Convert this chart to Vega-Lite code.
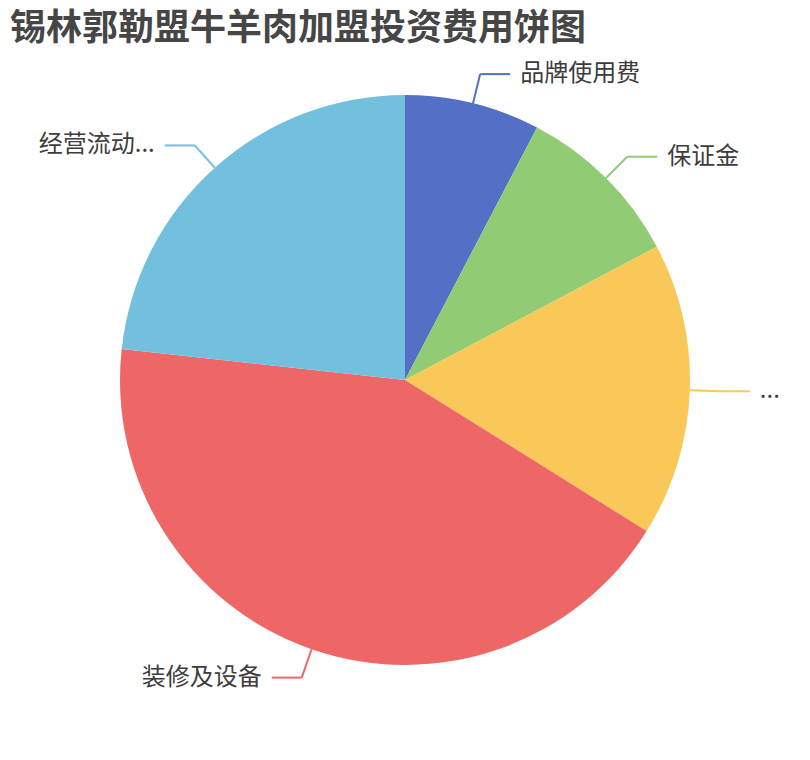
{
  "$schema": "https://vega.github.io/schema/vega-lite/v6.json",
  "width": 810,
  "height": 640,
  "autosize": {"type": "none"},
  "padding": {"left": 0, "top": 60, "right": 0, "bottom": 60},
  "background": "#ffffff",
  "title": {
    "text": "锡林郭勒盟牛羊肉加盟投资费用饼图",
    "anchor": "start",
    "frame": "group",
    "font": "Noto Sans CJK SC",
    "fontSize": 36,
    "fontWeight": "bold",
    "color": "#464646",
    "dx": 10,
    "offset": 12
  },
  "config": {
    "view": {"stroke": null},
    "text": {"font": "Noto Sans CJK SC"}
  },
  "data": {
    "values": [
      {"name": "品牌使用费", "label": "品牌使用费", "value": 7.67},
      {"name": "保证金", "label": "保证金", "value": 9.58},
      {"name": "...", "label": "...", "value": 16.64},
      {"name": "装修及设备", "label": "装修及设备", "value": 42.85},
      {"name": "经营流动资金", "label": "经营流动...", "value": 23.26}
    ]
  },
  "transform": [
    {"joinaggregate": [{"op": "sum", "field": "value", "as": "total"}]},
    {"window": [{"op": "sum", "field": "value", "as": "cum"}], "frame": [null, 0]},
    {"calculate": "(datum.cum - datum.value) / datum.total", "as": "t0"},
    {"calculate": "datum.cum / datum.total", "as": "t1"},
    {"calculate": "(datum.t0 + datum.t1) * PI", "as": "a"},
    {"calculate": "sin(datum.a) * 285", "as": "x0"},
    {"calculate": "cos(datum.a) * 285", "as": "y0"},
    {"calculate": "sin(datum.a) * 315", "as": "x1"},
    {"calculate": "cos(datum.a) * 315", "as": "y1"},
    {"calculate": "datum.x1 >= 0 ? 1 : -1", "as": "side"},
    {"calculate": "datum.x1 + datum.side * 30", "as": "x2"},
    {"calculate": "datum.x2 + datum.side * 10", "as": "xt"}
  ],
  "layer": [
    {
      "mark": {"type": "arc", "outerRadius": 285},
      "encoding": {
        "theta": {"field": "t0", "type": "quantitative", "stack": null, "scale": {"domain": [0, 1], "range": [0, 6.283185307]}},
        "theta2": {"field": "t1"},
        "color": {
          "field": "name",
          "type": "nominal",
          "sort": null,
          "scale": {
            "domain": ["品牌使用费", "保证金", "...", "装修及设备", "经营流动资金"],
            "range": ["#5470c6", "#91cc75", "#fac858", "#ee6666", "#73c0de"]
          },
          "legend": null
        }
      }
    },
    {
      "mark": {"type": "rule", "strokeWidth": 2},
      "encoding": {
        "x": {"field": "x0", "type": "quantitative", "scale": {"domain": [-405, 405], "nice": false, "zero": false}, "axis": null},
        "y": {"field": "y0", "type": "quantitative", "scale": {"domain": [-320, 320], "nice": false, "zero": false}, "axis": null},
        "x2": {"field": "x1"},
        "y2": {"field": "y1"},
        "color": {"field": "name", "type": "nominal", "legend": null}
      }
    },
    {
      "mark": {"type": "rule", "strokeWidth": 2},
      "encoding": {
        "x": {"field": "x1", "type": "quantitative"},
        "y": {"field": "y1", "type": "quantitative"},
        "x2": {"field": "x2"},
        "color": {"field": "name", "type": "nominal", "legend": null}
      }
    },
    {
      "transform": [{"filter": "datum.side > 0"}],
      "mark": {"type": "text", "align": "left", "baseline": "middle", "fontSize": 24, "color": "#3d3d3d"},
      "encoding": {
        "x": {"field": "xt", "type": "quantitative"},
        "y": {"field": "y1", "type": "quantitative"},
        "text": {"field": "label"}
      }
    },
    {
      "transform": [{"filter": "datum.side < 0"}],
      "mark": {"type": "text", "align": "right", "baseline": "middle", "fontSize": 24, "color": "#3d3d3d"},
      "encoding": {
        "x": {"field": "xt", "type": "quantitative"},
        "y": {"field": "y1", "type": "quantitative"},
        "text": {"field": "label"}
      }
    }
  ]
}
